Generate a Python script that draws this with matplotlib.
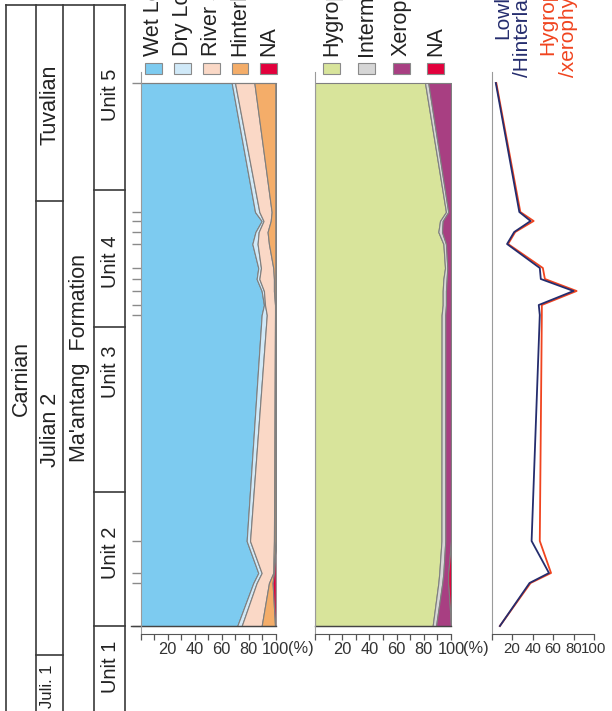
import numpy as np
import matplotlib.pyplot as plt
from matplotlib.patches import Rectangle

plt.rcParams['font.family'] = ['Liberation Sans', 'DejaVu Sans']

W, H = 612, 711

# stratigraphic height of each sample (arbitrary m, bottom of Unit 2 = 0)
height = np.array([0.0, 4.3, 5.3, 8.5, 31.1, 32.1, 33.5, 34.7, 35.8, 38.2, 39.4, 40.5, 41.4, 54.3])

# habitat groups (%)
wet_lowland = [71.5, 83.4, 87.1, 78.5, 89.6, 91.3, 89.6, 85.9, 87.1, 82.7, 85.0, 89.6, 84.7, 67.4]
dry_lowland = [3.3, 2.5, 2.5, 2.5, 3.8, 0.8, 1.7, 2.0, 2.0, 3.9, 2.4, 1.4, 3.2, 2.5]
river_side = [14.8, 9.1, 8.6, 17.7, 6.1, 7.4, 7.4, 10.8, 9.1, 8.4, 6.6, 5.3, 9.1, 14.3]
hinterland = [9.9, 2.7, 0.5, 1.3, 0.5, 0.5, 1.3, 1.3, 1.8, 5.0, 6.0, 3.7, 3.0, 15.8]
na_habitat = [0.5, 2.3, 1.3, 0.0, 0.0, 0.0, 0.0, 0.0, 0.0, 0.0, 0.0, 0.0, 0.0, 0.0]

# moisture groups (%)
hygrophyte = [86.5, 90.7, 91.4, 93.0, 93.1, 93.9, 93.9, 94.4, 95.6, 94.4, 90.7, 91.9, 96.3, 80.9]
intermediate = [2.5, 2.9, 3.0, 2.8, 2.7, 2.4, 2.4, 2.4, 1.7, 1.9, 2.7, 2.0, 1.7, 2.4]
xerophyte = [11.0, 4.4, 3.6, 4.2, 4.2, 3.7, 3.7, 3.2, 2.7, 3.7, 6.6, 6.1, 2.0, 16.7]
na_moisture = [0.0, 2.0, 2.0, 0.0, 0.0, 0.0, 0.0, 0.0, 0.0, 0.0, 0.0, 0.0, 0.0, 0.0]

# ratios
lowland_hinterland = [8, 37, 56, 39, 47, 46, 80, 48, 47, 15, 22, 38, 27, 4]
hygro_xerophyte = [8, 38, 58, 47, 49, 49, 83, 52, 50, 16, 23, 41, 28, 4.5]

# stratigraphic units (boundaries in height)
unit_bounds = [43.6, 29.9, 13.4, 0.0]
unit_names = ['Unit 5', 'Unit 4', 'Unit 3', 'Unit 2', 'Unit 1']
unit_label_y = [53.1, 36.4, 25.4, 7.3, -4.1]
stage_bounds = [42.5, -2.9]

habitat_names = ['Wet Lowland', 'Dry Lowland', 'River side', 'Hinterland', 'NA']
habitat_colors = ['#7dcbf0', '#d0e9f8', '#fad8c6', '#f4ad69', '#e2003c']
moisture_names = ['Hygrophyte', 'Intermediate', 'Xerophyte', 'NA']
moisture_colors = ['#d8e49b', '#d6d6d6', '#a83f82', '#e2003c']

navy = '#252d6e'
red = '#f0441f'
edge = '#7f7f7f'
YLIM = (-0.8, 55.4)


def fx(x):
    return x / W


def fy(y):
    return 1 - y / H


fig = plt.figure(figsize=(W / 100, H / 100), dpi=100)

# ---- stratigraphic column ----
ax_s = fig.add_axes([0, 0, 1, 1])
ax_s.set_xlim(0, W)
ax_s.set_ylim((626 - H) / 10, 626 / 10)
ax_s.axis('off')
top = 62.1
lc = '#3a3a3a'
for x in [6, 36, 63, 94, 125]:
    ax_s.plot([x, x], [top, -9], color=lc, lw=1.2)
ax_s.plot([6, 125], [top, top], color=lc, lw=1.2)
for b in stage_bounds:
    ax_s.plot([36, 63], [b, b], color=lc, lw=1.2)
for b in unit_bounds:
    ax_s.plot([94, 125], [b, b], color=lc, lw=1.2)
ax_s.text(21, 24.7, 'Carnian', rotation=90, ha='center', va='center', fontsize=15.5, color='#222')
ax_s.text(50, 52.1, 'Tuvalian', rotation=90, ha='center', va='center', fontsize=15.5, color='#222')
ax_s.text(50, 19.6, 'Julian 2', rotation=90, ha='center', va='center', fontsize=15.5, color='#222')
ax_s.text(48, -6.0, 'Juli. 1', rotation=90, ha='center', va='center', fontsize=12, color='#222')
ax_s.text(79, 26.8, "Ma'antang  Formation", rotation=90, ha='center', va='center', fontsize=15.5, color='#222')
for name, y in zip(unit_names, unit_label_y):
    ax_s.text(110, y, name, rotation=90, ha='center', va='center', fontsize=14.5, color='#222')


def base_axes(x0, x1):
    ax = fig.add_axes([fx(x0), fy(634), fx(x1) - fx(x0), fy(72) - fy(634)])
    ax.set_xlim(0, 100)
    ax.set_ylim(*YLIM)
    ax.patch.set_visible(False)
    for s in ['top', 'right']:
        ax.spines[s].set_visible(False)
    ax.spines['left'].set_color('#9a9a9a')
    ax.spines['bottom'].set_color('#555555')
    ax.tick_params(axis='x', direction='out', length=4.5, width=0.9, color='#555555',
                   labelsize=11.8, labelcolor='#333333', pad=1)
    ax.tick_params(axis='x', which='minor', direction='out', length=4.5, width=0.9, color='#555555')
    ax.tick_params(axis='y', left=False, labelleft=False)
    return ax


def stack_panel(ax, layers, colors):
    cum = np.zeros(len(height))
    for vals, c in zip(layers, colors):
        nxt = cum + np.array(vals)
        ax.fill_betweenx(height, cum, nxt, facecolor=c, edgecolor=edge, lw=0.8)
        cum = nxt
    ax.set_xticks([0, 20, 40, 60, 80, 100])
    ax.set_xticklabels(['', '20', '40', '60', '80', '100'])
    ax.set_xticks([10, 30, 50, 70, 90], minor=True)
    ax.annotate('(%)', xy=(100, 0), xycoords=('data', 'axes fraction'), xytext=(9, -5.3),
                textcoords='offset points', ha='left', va='top', fontsize=11.8, color='#333333')


# ---- habitat panel ----
ax1 = base_axes(140.7, 275.7)
stack_panel(ax1, [wet_lowland, dry_lowland, river_side, hinterland, na_habitat], habitat_colors)
ax1.set_yticks(height)
ax1.tick_params(axis='y', left=True, direction='out', length=6.5, width=1, color='#8a8a8a')
ax1.plot([-7.4, 100], [0, 0], color='#444444', lw=1, clip_on=False)
ax1.plot([0, 100], [height[-1], height[-1]], color=edge, lw=0.8, clip_on=False)

# ---- moisture panel ----
ax2 = base_axes(315, 451)
stack_panel(ax2, [hygrophyte, intermediate, xerophyte, na_moisture], moisture_colors)
ax2.plot([0, 100], [0, 0], color='#444444', lw=1, clip_on=False)

# ---- ratio panel ----
ax3 = base_axes(491.7, 594)
ax3.plot(hygro_xerophyte, height, color=red, lw=1.3)
ax3.plot(lowland_hinterland, height, color=navy, lw=1.3)
ax3.set_xticks([0, 20, 40, 60, 80, 100])
ax3.set_xticklabels(['', '20', '40', '60', '80', '100'])
ax3.tick_params(axis='x', labelsize=10.8)

# ---- legends ----
def legend_col(xs, names, colors):
    for x, n, c in zip(xs, names, colors):
        fig.add_artist(Rectangle((fx(x - 8.3), fy(74)), 16.6 / W, 11 / H, transform=fig.transFigure,
                                 facecolor=c, edgecolor='#8a8a8a', lw=0.8))
        fig.text(fx(x), fy(56), n, rotation=90, ha='center', va='bottom', fontsize=15.5, color='#222')


legend_col([153.5, 182.5, 211.5, 240, 268.5], habitat_names, habitat_colors)
legend_col([331.5, 366.5, 401.5, 435.5], moisture_names, moisture_colors)

fig.text(fx(503), fy(39), 'Lowland', rotation=90, ha='center', va='bottom', fontsize=15, color=navy)
fig.text(fx(523), fy(77), '/Hinterland', rotation=90, ha='center', va='bottom', fontsize=15, color=navy)
fig.text(fx(548), fy(55), 'Hygrophyte', rotation=90, ha='center', va='bottom', fontsize=15, color=red)
fig.text(fx(569), fy(77), '/xerophyte', rotation=90, ha='center', va='bottom', fontsize=15, color=red)

fig.savefig('out.png', dpi=100)
